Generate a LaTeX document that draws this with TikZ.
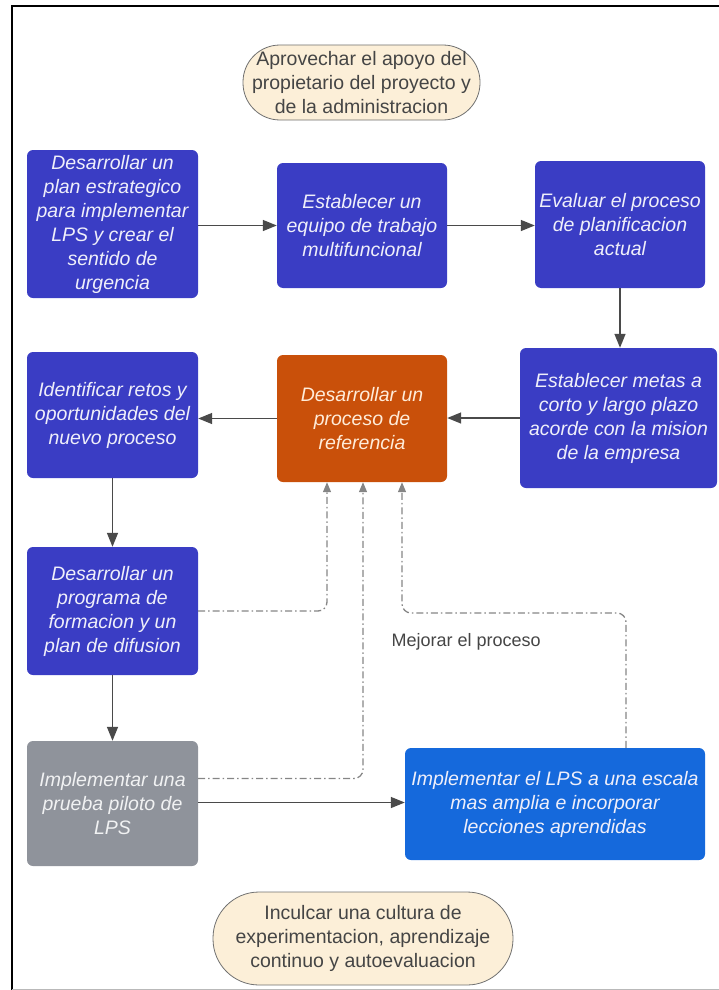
\documentclass[tikz,border=0pt]{standalone}
\usepackage{fontspec}
\setmainfont{Liberation Sans}
\usepackage{xcolor}
\usetikzlibrary{arrows.meta}

\definecolor{stepblue}{HTML}{3A3DC4}
\definecolor{refOrange}{HTML}{C9500A}
\definecolor{pilotGrey}{HTML}{8F939B}
\definecolor{scaleBlue}{HTML}{1569DC}
\definecolor{ovalFill}{HTML}{FCEFD8}
\definecolor{ovalLine}{HTML}{707070}
\definecolor{inkGrey}{HTML}{454545}
\definecolor{flowGrey}{HTML}{4A4A4A}
\definecolor{loopGrey}{HTML}{858585}

\tikzset{
  stepbox/.style={fill=stepblue, rounded corners=6pt, align=center, inner sep=3pt,
    text=white!92!stepblue, font=\itshape\fontsize{19.5}{24}\selectfont},
  ovalbox/.style={fill=ovalFill, draw=ovalLine, line width=0.8pt, align=center, inner sep=2pt,
    text=inkGrey, font=\fontsize{19.5}{24}\selectfont},
  flow/.style={draw=flowGrey, line width=1.4pt, -{Triangle[length=14pt,width=11pt]}},
  feedback/.style={draw=loopGrey, line width=1.3pt, rounded corners=9pt,
    dash pattern=on 7pt off 3pt on 1.5pt off 3pt, -{Triangle[length=10pt,width=8pt]}}
}

\begin{document}
\begin{tikzpicture}[x=1pt, y=1pt]
  \useasboundingbox (0,0) rectangle (719,-990);
  % marco
  \draw[line width=2pt] (12,-990) -- (12,-6) -- (719,-6);
  \draw[gray!55, line width=1pt] (12,-989) -- (719,-989);

  % ovalos
  \node[ovalbox, rounded corners=37pt, minimum width=237pt, minimum height=75pt] (apoyo) at (361.5,-82.5)
    {Aprovechar el apoyo del\\propietario del proyecto y\\de la administracion};
  \node[ovalbox, rounded corners=46pt, minimum width=300pt, minimum height=93pt] (cultura) at (363,-938.5)
    {Inculcar una cultura de\\experimentacion, aprendizaje\\continuo y autoevaluacion};

  % pasos
  \node[stepbox, minimum width=171pt, minimum height=148pt] (plan) at (112.5,-224)
    {Desarrollar un\\plan estrategico\\para implementar\\LPS y crear el\\sentido de\\urgencia};
  \node[stepbox, minimum width=170pt, minimum height=125pt] (equipo) at (362,-225.5)
    {Establecer un\\equipo de trabajo\\multifuncional};
  \node[stepbox, minimum width=170pt, minimum height=127pt] (evaluar) at (620,-224.5)
    {Evaluar el proceso\\de planificacion\\actual};
  \node[stepbox, minimum width=197pt, minimum height=140pt] (metas) at (618.5,-418)
    {Establecer metas a\\corto y largo plazo\\acorde con la mision\\de la empresa};
  \node[stepbox, fill=refOrange, text=white!85!orange, minimum width=170pt, minimum height=127pt] (referencia) at (362,-418.5)
    {Desarrollar un\\proceso de\\referencia};
  \node[stepbox, minimum width=171pt, minimum height=126pt] (retos) at (112.5,-415)
    {Identificar retos y\\oportunidades del\\nuevo proceso};
  \node[stepbox, minimum width=171pt, minimum height=128pt] (formacion) at (112.5,-611)
    {Desarrollar un\\programa de\\formacion y un\\plan de difusion};
  \node[stepbox, fill=pilotGrey, text=white!88!pilotGrey, minimum width=171pt, minimum height=125pt] (piloto) at (112.5,-803.5)
    {Implementar una\\prueba piloto de\\LPS};
  \node[stepbox, fill=scaleBlue, minimum width=300pt, minimum height=112pt] (escala) at (555,-804)
    {Implementar el LPS a una escala\\mas amplia e incorporar\\lecciones aprendidas};

  \node[text=inkGrey, font=\fontsize{18}{22}\selectfont, anchor=west] (mejorar) at (388,-642) {Mejorar el proceso};

  % flujo principal
  \draw[flow] (plan.east |- equipo.west) -- (equipo.west);
  \draw[flow] (equipo.east) -- (equipo.east -| evaluar.west);
  \draw[flow] (evaluar.south) -- (evaluar.south |- metas.north);
  \draw[flow] (metas.west) -- (metas.west -| referencia.east);
  \draw[flow] (referencia.west) -- (referencia.west -| retos.east);
  \draw[flow] (retos.south) -- (formacion.north);
  \draw[flow] (formacion.south) -- (piloto.north);
  \draw[flow] ([yshift=1pt]piloto.east) -- ([yshift=1pt]piloto.east -| escala.west);

  % retroalimentacion
  \draw[feedback] (formacion.east) -| ([xshift=-35pt]referencia.south);
  \draw[feedback] ([yshift=25pt]piloto.east) -| ([xshift=1pt]referencia.south);
  \coordinate (vuelta) at (626,-613);
  \draw[feedback] (escala.north -| vuelta) -- (vuelta) -| ([xshift=40pt]referencia.south);
\end{tikzpicture}
\end{document}
